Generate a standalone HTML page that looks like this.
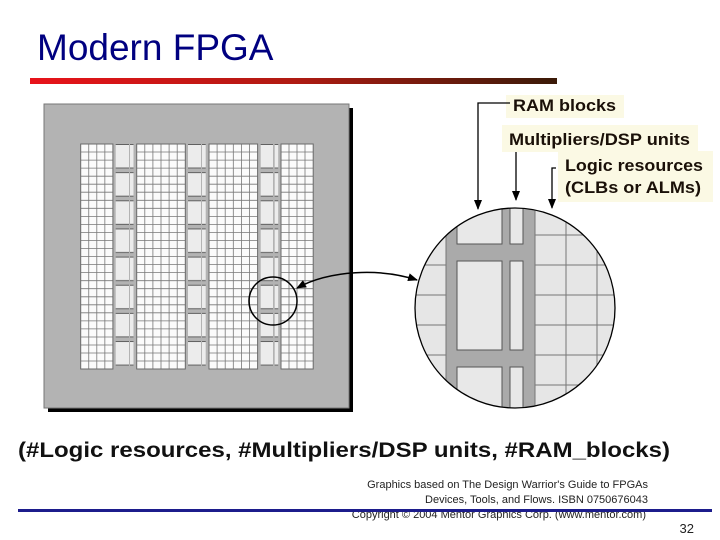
<!DOCTYPE html>
<html><head><meta charset="utf-8"><style>
html,body{margin:0;padding:0;background:#fff;}
body{width:720px;height:540px;overflow:hidden;position:relative;font-family:"Liberation Sans",sans-serif;}
</style></head><body>
<svg width="720" height="540" viewBox="0 0 720 540" xmlns="http://www.w3.org/2000/svg" style="position:absolute;left:0;top:0">
<defs>
<linearGradient id="bar" x1="0" x2="1" y1="0" y2="0">
<stop offset="0" stop-color="#e8131a"/><stop offset="0.5" stop-color="#b01a12"/><stop offset="1" stop-color="#3a1a08"/></linearGradient>
<pattern id="ram" x="0" y="144" width="10" height="28.15" patternUnits="userSpaceOnUse">
<rect x="-5" y="0.5" width="20" height="23.5" fill="#ececec" stroke="#555" stroke-width="0.9"/></pattern>
<clipPath id="cc"><circle cx="515" cy="308" r="100"/></clipPath>
<marker id="ah" markerWidth="10" markerHeight="10" refX="9" refY="5" orient="auto" markerUnits="userSpaceOnUse"><path d="M0,1 L10,5 L0,9 Z" fill="#000"/></marker>
<marker id="ah2" markerWidth="10" markerHeight="10" refX="9" refY="5" orient="auto-start-reverse" markerUnits="userSpaceOnUse"><path d="M0,1 L10,5 L0,9 Z" fill="#000"/></marker>
</defs>
<text x="37" y="60" font-size="37" fill="#000080" font-family="Liberation Sans, sans-serif">Modern FPGA</text>
<rect x="30" y="78" width="527" height="6" fill="url(#bar)"/>

<rect x="48" y="108" width="305" height="304" fill="#000"/>
<rect x="44" y="104" width="305" height="304" fill="#b3b3b3" stroke="#777" stroke-width="1"/>
<rect x="80.7" y="144" width="232.3" height="225" fill="#fbfbfb"/>
<path stroke="#777" stroke-width="0.8" fill="none" d="
M80.7,152 H313 M80.7,160.1 H313 M80.7,168.1 H313 M80.7,176.2 H313 M80.7,184.2 H313 M80.7,192.2 H313 M80.7,200.3 H313
M80.7,208.3 H313 M80.7,216.4 H313 M80.7,224.4 H313 M80.7,232.4 H313 M80.7,240.5 H313 M80.7,248.5 H313 M80.7,256.5 H313
M80.7,264.6 H313 M80.7,272.6 H313 M80.7,280.7 H313 M80.7,288.7 H313 M80.7,296.8 H313 M80.7,304.8 H313 M80.7,312.8 H313
M80.7,320.9 H313 M80.7,328.9 H313 M80.7,337 H313 M80.7,345 H313 M80.7,353 H313 M80.7,361 H313
M88.75,144 V369 M96.8,144 V369 M104.85,144 V369
M144.8,144 V369 M152.9,144 V369 M161,144 V369 M169.1,144 V369 M177.2,144 V369
M217.1,144 V369 M225.2,144 V369 M233.3,144 V369 M241.4,144 V369 M249.5,144 V369
M289,144 V369 M297,144 V369 M305,144 V369"/>
<g fill="#b3b3b3">
<rect x="112.9" y="143" width="23.8" height="227"/>
<rect x="185.3" y="143" width="23.7" height="227"/>
<rect x="257.6" y="143" width="23.4" height="227"/>
</g>
<g fill="none" stroke="#6a6a6a">
<rect x="80.7" y="144" width="32.2" height="225"/>
<rect x="136.7" y="144" width="48.6" height="225"/>
<rect x="209" y="144" width="48.6" height="225"/>
<rect x="281" y="144" width="32.2" height="225"/>
</g>
<rect x="115.7" y="144" width="13.3" height="225" fill="url(#ram)"/>
<rect x="130" y="144" width="3.5" height="225" fill="url(#ram)"/>
<rect x="188" y="144" width="13" height="225" fill="url(#ram)"/>
<rect x="202" y="144" width="3.7" height="225" fill="url(#ram)"/>
<rect x="260.7" y="144" width="12.3" height="225" fill="url(#ram)"/>
<rect x="274.7" y="144" width="3.5" height="225" fill="url(#ram)"/>
<circle cx="273" cy="301" r="24" fill="none" stroke="#000" stroke-width="1.5"/>
<path d="M417,280 C380,268 330,270 297,288" fill="none" stroke="#000" stroke-width="1.5" marker-end="url(#ah)" marker-start="url(#ah2)"/>

<g clip-path="url(#cc)">
<rect x="410" y="200" width="210" height="220" fill="#e6e6e6"/>
<g stroke="#777" stroke-width="1">
<line x1="410" y1="265" x2="446" y2="265"/><line x1="410" y1="295" x2="446" y2="295"/>
<line x1="410" y1="325" x2="446" y2="325"/><line x1="410" y1="355" x2="446" y2="355"/>
<line x1="535" y1="235" x2="620" y2="235"/><line x1="535" y1="265" x2="620" y2="265"/>
<line x1="535" y1="295" x2="620" y2="295"/><line x1="535" y1="325" x2="620" y2="325"/>
<line x1="535" y1="355" x2="620" y2="355"/><line x1="535" y1="385" x2="620" y2="385"/>
<line x1="566" y1="200" x2="566" y2="420"/><line x1="597" y1="200" x2="597" y2="420"/>
</g>
<rect x="446" y="200" width="89" height="220" fill="#aaa"/>
<line x1="446" y1="200" x2="446" y2="420" stroke="#777"/>
<line x1="535" y1="200" x2="535" y2="420" stroke="#777"/>
<g fill="#e8e8e8" stroke="#555" stroke-width="1">
<rect x="457" y="190" width="45" height="54"/><rect x="457" y="261" width="45" height="89"/><rect x="457" y="367" width="45" height="60"/>
<rect x="510" y="190" width="13" height="54"/><rect x="510" y="261" width="13" height="89"/><rect x="510" y="367" width="13" height="60"/>
</g>
</g>
<circle cx="515" cy="308" r="100" fill="none" stroke="#000" stroke-width="1.3"/>

<rect x="506" y="95" width="118" height="23" fill="#fbf9e4"/>
<rect x="502" y="125" width="196" height="27" fill="#fbf9e4"/>
<rect x="558" y="151" width="155" height="51" fill="#fbf9e4"/>
<g font-family="Liberation Sans, sans-serif" font-weight="bold" font-size="16.5" fill="#1a1008">
<text x="513" y="111" textLength="103" lengthAdjust="spacingAndGlyphs">RAM blocks</text>
<text x="509" y="145" textLength="181" lengthAdjust="spacingAndGlyphs">Multipliers/DSP units</text>
<text x="565" y="171" textLength="138" lengthAdjust="spacingAndGlyphs">Logic resources</text>
<text x="565" y="193" textLength="136" lengthAdjust="spacingAndGlyphs">(CLBs or ALMs)</text>
</g>
<g stroke="#000" stroke-width="1.3" fill="none">
<path d="M510,103 L478,103 L478,209" marker-end="url(#ah)"/>
<path d="M516,152 L516,200" marker-end="url(#ah)"/>
<path d="M556,168 L552,168 L552,208" marker-end="url(#ah)"/>
</g>

<text x="18" y="457" font-family="Liberation Sans, sans-serif" font-weight="bold" font-size="21" fill="#111" textLength="652" lengthAdjust="spacingAndGlyphs">(#Logic resources, #Multipliers/DSP units, #RAM_blocks)</text>
<g font-family="Liberation Sans, sans-serif" font-size="11" fill="#222" text-anchor="end">
<text x="648" y="488">Graphics based on The Design Warrior's Guide to FPGAs</text>
<text x="648" y="503">Devices, Tools, and Flows. ISBN 0750676043</text>
<text x="646" y="518">Copyright © 2004 Mentor Graphics Corp. (www.mentor.com)</text>
</g>
<rect x="18" y="509" width="694" height="3" fill="#1c1c8c"/>
<text x="694" y="533" font-family="Liberation Sans, sans-serif" font-size="13" fill="#222" text-anchor="end">32</text>
</svg>
</body></html>
